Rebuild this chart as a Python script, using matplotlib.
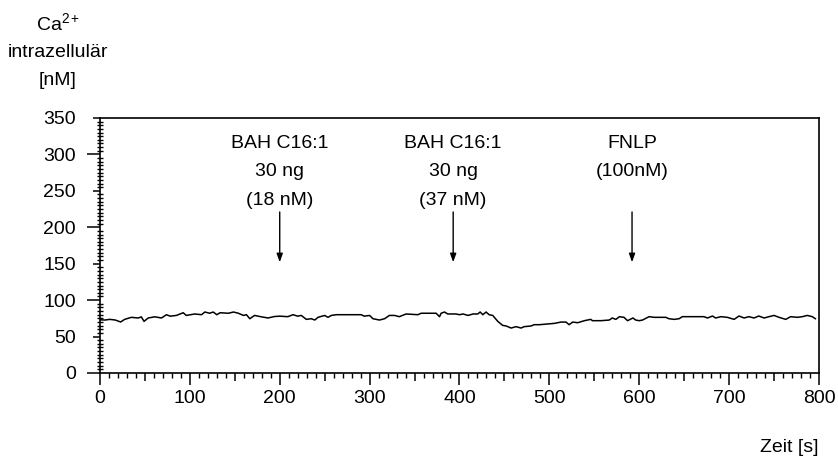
import matplotlib
matplotlib.use("Agg")
import matplotlib.pyplot as plt
from matplotlib.ticker import FixedLocator, MultipleLocator, FuncFormatter

plt.rcParams['font.family'] = ['Liberation Sans', 'DejaVu Sans']
plt.rcParams['mathtext.fontset'] = 'custom'
plt.rcParams['mathtext.rm'] = 'Liberation Sans'
plt.rcParams['mathtext.it'] = 'Liberation Sans'

# ---- data ----
time_s = [0, 5.6, 11, 17, 23, 27.4, 35, 42.6, 46, 49, 53.7, 61, 68.5, 74, 78, 85, 92.6, 96,
          105.6, 113, 116.7, 122, 126, 130, 133.7, 143, 148.5, 154, 159.6, 163, 166.7, 172,
          180, 187, 194, 200, 209, 214.8, 220, 224, 229.6, 235, 239, 242.6, 250, 253.7,
          257.4, 263, 290.7, 294, 300, 303.7, 311, 316.7, 322, 327.8, 333, 340.7, 353.7,
          357.4, 374, 377.8, 379.6, 383.3, 387, 396, 400, 404, 409.6, 415, 420.4, 423, 426,
          429.6, 433, 437, 442.6, 448, 452, 457.4, 463, 468.5, 472, 479.6, 483, 489, 498,
          505.6, 513, 518.5, 522, 526, 531.5, 539, 546, 548, 557.4, 566.7, 570, 574, 578,
          583, 587, 593, 596, 600, 603.7, 611, 616.7, 629.6, 633, 638.9, 644.4, 648, 672,
          676, 681.5, 685, 691, 698, 705.6, 711, 716.7, 722, 727.8, 733, 739, 744.4, 750,
          755.6, 763, 768.5, 776, 781.5, 787, 792.6, 796]
calcium_nM = [73, 72.7, 73.6, 72.7, 70, 73.6, 76.4, 75.5, 77, 70.9, 75.5, 77.1, 75.5, 80, 78,
              79, 82.7, 79, 81, 80, 83.7, 82, 83.7, 80, 82.7, 82, 83.7, 82, 79, 80, 74.5, 79,
              77, 75.5, 77.5, 78, 77.3, 80, 78, 79, 73.6, 74.5, 72.7, 76.4, 79, 76.4, 79, 80,
              80, 78, 79, 74.5, 72.7, 74.5, 79, 79, 77.3, 81, 80, 82, 82, 77.3, 82, 83.7, 81,
              81, 80, 81, 79, 81, 81, 83.7, 80, 83.7, 80, 79, 70.9, 65.4, 64.5, 61.7, 63.6,
              61.7, 63.6, 64.5, 66.3, 66.3, 67.2, 68.1, 69.9, 69.9, 66.3, 69.9, 69, 71.8, 73.6,
              71.8, 71.8, 72.7, 75.5, 73.6, 77.3, 76.4, 71.8, 75.5, 72.7, 71.8, 72.7, 77.3,
              76.4, 76.4, 74.5, 73.6, 74.5, 77.3, 77.3, 75.5, 78.2, 75.5, 77.3, 76.4, 73.6,
              78.2, 75.5, 77.3, 75.5, 78.2, 75.5, 77.3, 79, 76.4, 73.6, 77.3, 76.4, 77.3, 79,
              77.3, 74.5]

event_times = [200, 393, 592]
event_labels = [["BAH C16:1", "30 ng", "(18 nM)"],
                ["BAH C16:1", "30 ng", "(37 nM)"],
                ["FNLP", "(100nM)"]]

x_ticks = [0, 100, 200, 300, 400, 500, 600, 700, 800]
y_ticks = [0, 50, 100, 150, 200, 250, 300, 350]

# ---- figure ----
fig = plt.figure(figsize=(8.38, 4.58), dpi=100)
ax = fig.add_axes([0.1193, 0.1856, 0.858, 0.5568])

ax.plot(time_s, calcium_nM, color='black', lw=1.1)

ax.set_xlim(0, 800)
ax.set_ylim(0, 350)

for sp in ax.spines.values():
    sp.set_linewidth(1.2)

FS = 14

# x axis: major ticks every 50 (labels only on 100s), minor every 10
ax.xaxis.set_major_locator(FixedLocator(list(range(0, 801, 50))))
ax.xaxis.set_major_formatter(FuncFormatter(lambda v, p: f"{int(v)}" if int(round(v)) in x_ticks else ""))
ax.xaxis.set_minor_locator(MultipleLocator(10))
ax.tick_params(axis='x', which='major', direction='out', length=8.6, width=1.1, pad=3.5, labelsize=FS)
ax.tick_params(axis='x', which='minor', direction='out', length=3.4, width=1.0)

# y axis: major every 50 (labels), minor every 5
ax.yaxis.set_major_locator(FixedLocator(y_ticks))
ax.yaxis.set_minor_locator(MultipleLocator(5))
ax.tick_params(axis='y', which='major', direction='out', length=9.4, width=1.1, pad=8, labelsize=FS)
ax.tick_params(axis='y', which='minor', direction='inout', length=5, width=1.0)
ax.tick_params(top=False, right=False, which='both')

fig.canvas.draw()
for t in ax.xaxis.get_major_ticks():
    loc = t.get_loc()
    if loc is not None and int(round(loc)) % 100 != 0:
        t.tick1line.set_markersize(5.8)
for t in ax.yaxis.get_major_ticks():
    loc = t.get_loc()
    if loc is not None and int(round(loc)) % 100 != 0:
        t.tick1line.set_markersize(5.0)

# event annotations
line_y = [315.5, 276, 237]
for tx, lines in zip(event_times, event_labels):
    for yy, s in zip(line_y, lines):
        ax.text(tx, yy, s, ha='center', va='center', fontsize=FS)
    ax.annotate("", xy=(tx, 152), xytext=(tx, 221),
                arrowprops=dict(arrowstyle='-|>,head_length=0.5,head_width=0.18',
                                color='black', lw=1.0, shrinkA=0, shrinkB=0))

# axis labels
ax.text(1.0, -0.294, "Zeit [s]", transform=ax.transAxes, ha='right', va='center', fontsize=FS)
fig.text(0.069, 0.950, r"Ca$^{\mathrm{2+}}$", ha='center', va='center', fontsize=FS)
fig.text(0.069, 0.886, "intrazellulär", ha='center', va='center', fontsize=FS)
fig.text(0.069, 0.825, "[nM]", ha='center', va='center', fontsize=FS)

fig.savefig("out.png", dpi=100)
